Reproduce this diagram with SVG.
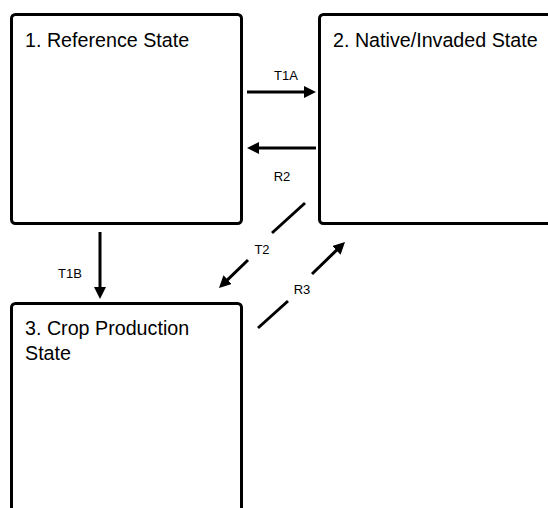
<svg xmlns="http://www.w3.org/2000/svg" width="548" height="508" viewBox="0 0 548 508">
<style>
.box{fill:#fff;stroke:#000;stroke-width:3}
.lbl{font-family:"Liberation Sans",Arial,sans-serif;font-size:19.7px;fill:#000}
.el{font-family:"Liberation Sans",Arial,sans-serif;font-size:13px;fill:#000;text-anchor:middle}
.cn{fill:none;stroke:#000;stroke-width:3}
</style>
<defs>
<marker id="ah" markerUnits="userSpaceOnUse" markerWidth="12" markerHeight="12" refX="6" refY="6" orient="auto" viewBox="0 0 12 12">
<path d="M0,0 L12,6 L0,12 z" fill="#000"/>
</marker>
</defs>
<rect width="548" height="508" fill="#fff"/>
<g id="node-reference">
<rect class="box" x="11.5" y="14.5" width="230" height="209" rx="4"/>
<text class="lbl" x="25" y="47">1. Reference State</text>
</g>
<g id="node-native">
<rect class="box" x="319.5" y="14.5" width="240" height="209" rx="4"/>
<text class="lbl" x="333" y="47">2. Native/Invaded State</text>
</g>
<g id="node-crop">
<rect class="box" x="11.5" y="303.5" width="230" height="230" rx="4"/>
<text class="lbl" x="25" y="335">3. Crop Production</text>
<text class="lbl" x="25" y="360">State</text>
</g>
<g id="connectors">
<line class="cn" x1="247" y1="92" x2="310" y2="92" marker-end="url(#ah)"/>
<text class="el" x="286" y="80">T1A</text>
<line class="cn" x1="316" y1="148" x2="253" y2="148" marker-end="url(#ah)"/>
<text class="el" x="282" y="181">R2</text>
<line class="cn" x1="100" y1="232" x2="100" y2="293" marker-end="url(#ah)"/>
<text class="el" x="70" y="278">T1B</text>
<line class="cn" x1="305" y1="203" x2="272" y2="233"/>
<line class="cn" x1="248" y1="260" x2="223.3" y2="283.8" marker-end="url(#ah)"/>
<text class="el" x="262" y="254">T2</text>
<line class="cn" x1="258" y1="328" x2="288" y2="301"/>
<line class="cn" x1="312" y1="274" x2="340.7" y2="246.2" marker-end="url(#ah)"/>
<text class="el" x="302" y="294">R3</text>
</g>
</svg>
